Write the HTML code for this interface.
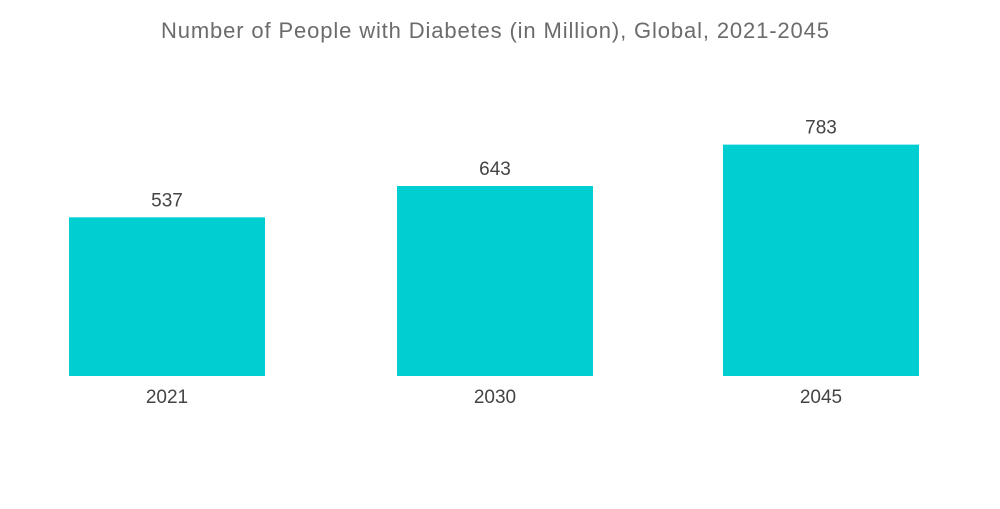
<!DOCTYPE html>
<html><head><meta charset="utf-8"><style>
body{margin:0;background:#fff;width:1000px;height:504px;overflow:hidden;font-family:"Liberation Sans",sans-serif}
</style></head><body>
<svg width="1000" height="504">
<text x="495" y="38" text-anchor="middle" font-size="22" fill="#6b6b6b" textLength="668" lengthAdjust="spacing">Number of People with Diabetes (in Million), Global, 2021-2045</text>
<g id="bars"></g>
</svg>
<script>
const categories=["2021","2030","2045"];
const values=[537,643,783];
const valueLabels=["537","643","783"];
const baseline=376, scale=0.2955, barW=196, lefts=[69,397,723];
const ns="http://www.w3.org/2000/svg";
const g=document.getElementById('bars');
function y(v){return baseline-v*scale;}
categories.forEach((c,i)=>{
  const r=document.createElementNS(ns,'rect');
  
  
  r.setAttribute('x',lefts[i]);r.setAttribute('y',y(values[i]));
  r.setAttribute('width',barW);r.setAttribute('height',baseline-y(values[i]));
  r.setAttribute('fill','#00ced1');g.appendChild(r);
  const t=document.createElementNS(ns,'text');
  
  
  t.setAttribute('x',lefts[i]+barW/2);t.setAttribute('y',y(values[i])-11);
  t.setAttribute('text-anchor','middle');t.setAttribute('font-size','19');t.setAttribute('fill','#444');
  t.textContent=valueLabels[i];g.appendChild(t);
  const x=document.createElementNS(ns,'text');
  
  
  x.setAttribute('x',lefts[i]+barW/2);x.setAttribute('y',403);
  x.setAttribute('text-anchor','middle');x.setAttribute('font-size','19');x.setAttribute('fill','#444');
  x.textContent=c;g.appendChild(x);
});
</script>
</body></html>
